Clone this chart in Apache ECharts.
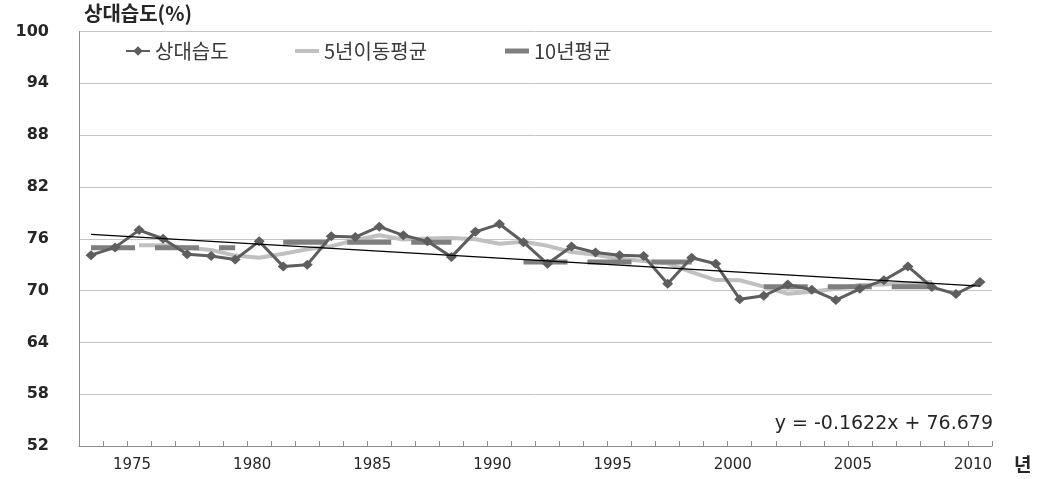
<!DOCTYPE html>
<html>
<head>
<meta charset="utf-8">
<script src="https://cdn.jsdelivr.net/npm/echarts@6/dist/echarts.min.js"></script>
<style>
  html, body { margin: 0; padding: 0; background: #ffffff; }
  #chart { width: 1042px; height: 479px; }
</style>
</head>
<body>
<div id="chart"></div>
<script>
// Annual relative humidity (%), 1973-2010
const years = ['1973', '1974', '1975', '1976', '1977', '1978', '1979', '1980', '1981', '1982',
  '1983', '1984', '1985', '1986', '1987', '1988', '1989', '1990', '1991', '1992',
  '1993', '1994', '1995', '1996', '1997', '1998', '1999', '2000', '2001', '2002',
  '2003', '2004', '2005', '2006', '2007', '2008', '2009', '2010'];

const humidity = [74.1, 75.0, 77.0, 76.0, 74.2, 74.0, 73.6, 75.7, 72.8, 73.0,
  76.3, 76.2, 77.4, 76.4, 75.7, 73.9, 76.8, 77.7, 75.6, 73.1,
  75.1, 74.4, 74.1, 74.0, 70.8, 73.8, 73.1, 69.0, 69.4, 70.7,
  70.1, 68.9, 70.2, 71.2, 72.8, 70.4, 69.6, 71.0];

// 5-year moving average (centred)
const movingAvg5 = [null, null, 75.26, 75.24, 74.96, 74.70, 74.05, 73.81, 74.27, 74.79,
  75.13, 75.86, 76.40, 75.92, 76.04, 76.10, 75.94, 75.42, 75.66, 75.18,
  74.46, 74.14, 73.68, 73.42, 73.16, 72.14, 71.22, 71.20, 70.46, 69.62,
  69.86, 70.22, 70.64, 70.70, 70.84, 71.00, null, null];

// 10-year means, one level per decade
const decadeMean = [74.95, 74.95, 74.95, 74.95, 74.95, 74.95, 74.95, null,
  75.6, 75.6, 75.6, 75.6, 75.6, 75.6, 75.6, 75.6, null, null,
  73.3, 73.3, 73.3, 73.3, 73.3, 73.3, 73.3, 73.3, null, null,
  70.43, 70.43, 70.43, 70.43, 70.43, 70.43, 70.43, 70.43, null, null];

// Linear trend y = slope * x + intercept, x = 1 for the first year
const trendSlope = -0.1622;
const trendIntercept = 76.679;

const yTicks = [52, 58, 64, 70, 76, 82, 88, 94, 100];

const lastIdx = years.length - 1;
const trendLine = [
  [0, trendIntercept + trendSlope * 1],
  [lastIdx, trendIntercept + trendSlope * (lastIdx + 1)]
];
const equationText = 'y = ' + trendSlope.toFixed(4) + 'x + ' + trendIntercept.toFixed(3);

const chart = echarts.init(document.getElementById('chart'));

const legendText = { fontFamily: '"Noto Sans CJK KR", sans-serif', fontSize: 20, color: '#3a3a3a' };

chart.setOption({
  animation: false,
  backgroundColor: '#ffffff',
  grid: { left: 79, right: 50, top: 31.5, bottom: 33, containLabel: false },
  legend: [
    { data: ['상대습도'], left: 120, top: 36, itemWidth: 24, itemHeight: 12, textStyle: legendText },
    { data: [{ name: '5년이동평균', icon: 'rect' }], left: 290, top: 36, itemWidth: 24, itemHeight: 4,
      itemStyle: { color: '#c0c0c0' }, textStyle: legendText },
    { data: [{ name: '10년평균', icon: 'rect' }], left: 500, top: 36, itemWidth: 24, itemHeight: 5,
      itemStyle: { color: '#7f7f7f' }, textStyle: legendText }
  ],
  xAxis: {
    type: 'category',
    data: years,
    boundaryGap: true,
    name: '년',
    nameLocation: 'end',
    nameGap: 22,
    nameTextStyle: {
      fontFamily: '"Noto Sans CJK KR", sans-serif', fontSize: 19, fontWeight: 'bold', color: '#262626',
      verticalAlign: 'top', padding: [9, 0, 0, 0]
    },
    axisLine: { show: true, lineStyle: { color: '#8c8c8c', width: 1 } },
    axisTick: { show: true, inside: true, length: 5, interval: 0, lineStyle: { color: '#8c8c8c' } },
    axisLabel: {
      interval: function (idx, val) { return Number(val) % 5 === 0; },
      margin: 12,
      padding: [0, 14, 0, 0],
      fontFamily: '"DejaVu Sans", sans-serif', fontSize: 15, color: '#262626'
    },
    splitLine: { show: false }
  },
  yAxis: {
    type: 'value',
    min: yTicks[0],
    max: yTicks[yTicks.length - 1],
    interval: 6,
    name: '상대습도(%)',
    nameLocation: 'end',
    nameGap: 8,
    nameTextStyle: {
      fontFamily: '"Noto Sans CJK KR", sans-serif', fontSize: 20, fontWeight: 'bold', color: '#262626',
      align: 'left', padding: [0, 0, 0, 5]
    },
    axisLine: { show: true, lineStyle: { color: '#8c8c8c', width: 1 } },
    axisTick: { show: false },
    axisLabel: {
      margin: 30,
      fontFamily: '"DejaVu Sans", sans-serif', fontSize: 16, fontWeight: 'bold', color: '#262626'
    },
    splitLine: { show: true, lineStyle: { color: '#c4c4c4', width: 1 } }
  },
  series: [
    {
      name: '5년이동평균',
      type: 'line',
      data: movingAvg5,
      symbol: 'none',
      connectNulls: false,
      color: '#c0c0c0',
      lineStyle: { color: '#c0c0c0', width: 4 },
      z: 2
    },
    {
      name: '10년평균',
      type: 'line',
      data: decadeMean,
      symbol: 'none',
      connectNulls: false,
      color: '#7f7f7f',
      lineStyle: { color: '#7f7f7f', width: 5, type: [44, 20], cap: 'butt' },
      z: 3
    },
    {
      name: '상대습도',
      type: 'line',
      data: humidity,
      symbol: 'diamond',
      symbolSize: [11, 10],
      color: '#5e5e5e',
      itemStyle: { color: '#5e5e5e' },
      lineStyle: { color: '#5e5e5e', width: 3 },
      z: 4
    },
    {
      name: '추세선',
      type: 'line',
      data: trendLine,
      symbol: 'none',
      color: '#000000',
      lineStyle: { color: '#000000', width: 1.2 },
      z: 5
    }
  ],
  graphic: [
    {
      type: 'text',
      right: 49,
      top: 415,
      style: {
        text: equationText,
        font: '19px "DejaVu Sans", sans-serif',
        fill: '#262626'
      }
    }
  ]
});
</script>
</body>
</html>
